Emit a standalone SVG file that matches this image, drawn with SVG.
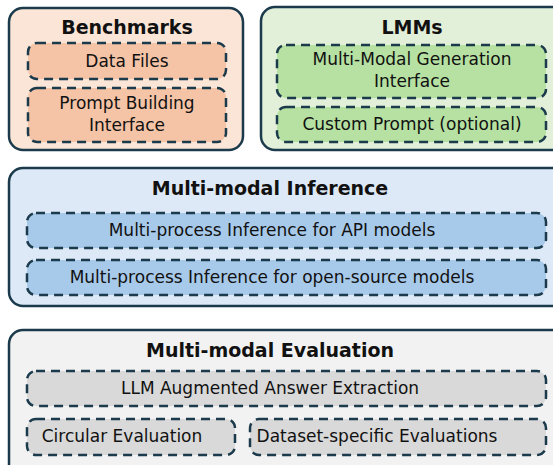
<svg xmlns="http://www.w3.org/2000/svg" width="553" height="465" viewBox="0 0 553 465">
<style>
.outer{stroke:#1b3a4b;stroke-width:2.5}
.inner{stroke:#1b3a4b;stroke-width:2.5;stroke-dasharray:9 6}
.t{font-family:"DejaVu Sans","Liberation Sans",sans-serif;font-size:19px;font-weight:bold;fill:#111;text-anchor:middle}
.s{font-family:"DejaVu Sans","Liberation Sans",sans-serif;font-size:17px;fill:#111;text-anchor:middle}
.pb{fill:#fbe5d6}.pi{fill:#f5c4a6}
.gb{fill:#e2f0d9}.gi{fill:#b6e1a2}
.bb{fill:#dde9f6}.bi{fill:#a8caea}
.eb{fill:#f2f2f2}.ei{fill:#d9d9d9}
</style>
<g id="benchmarks">
<rect class="outer pb" x="9" y="8" width="234" height="142" rx="14"/>
<text class="t" x="127" y="34">Benchmarks</text>
<g id="data-files"><rect class="inner pi" x="28" y="43" width="198" height="36" rx="9"/>
<text class="s" x="127" y="67">Data Files</text></g>
<g id="prompt-building"><rect class="inner pi" x="28" y="88" width="198" height="54" rx="9"/>
<text class="s" x="127" y="109">Prompt Building</text>
<text class="s" x="127" y="131">Interface</text></g>
</g>
<g id="lmms">
<rect class="outer gb" x="261" y="7" width="305" height="143" rx="14"/>
<text class="t" x="412" y="34">LMMs</text>
<g id="generation-interface"><rect class="inner gi" x="277" y="45" width="269" height="53" rx="9"/>
<text class="s" x="412" y="65">Multi-Modal Generation</text>
<text class="s" x="412" y="87">Interface</text></g>
<g id="custom-prompt"><rect class="inner gi" x="277" y="107" width="269" height="35" rx="9"/>
<text class="s" x="412" y="130">Custom Prompt (optional)</text></g>
</g>
<g id="inference">
<rect class="outer bb" x="9" y="168" width="560" height="138" rx="14"/>
<text class="t" x="270" y="195">Multi-modal Inference</text>
<g id="api-inference"><rect class="inner bi" x="27" y="213" width="519" height="35" rx="9"/>
<text class="s" x="272" y="236">Multi-process Inference for API models</text></g>
<g id="oss-inference"><rect class="inner bi" x="27" y="260" width="519" height="35" rx="9"/>
<text class="s" x="272" y="283">Multi-process Inference for open-source models</text></g>
</g>
<g id="evaluation">
<rect class="outer eb" x="9" y="330" width="560" height="160" rx="14"/>
<text class="t" x="270" y="357">Multi-modal Evaluation</text>
<g id="answer-extraction"><rect class="inner ei" x="27" y="371" width="519" height="35" rx="9"/>
<text class="s" x="270" y="394">LLM Augmented Answer Extraction</text></g>
<g id="circular-eval"><rect class="inner ei" x="27" y="419" width="208" height="36" rx="9"/>
<text class="s" x="122" y="442">Circular Evaluation</text></g>
<g id="dataset-eval"><rect class="inner ei" x="250" y="419" width="296" height="36" rx="9"/>
<text class="s" x="377" y="442">Dataset-specific Evaluations</text></g>
</g>
<g id="connectors"/>
</svg>
